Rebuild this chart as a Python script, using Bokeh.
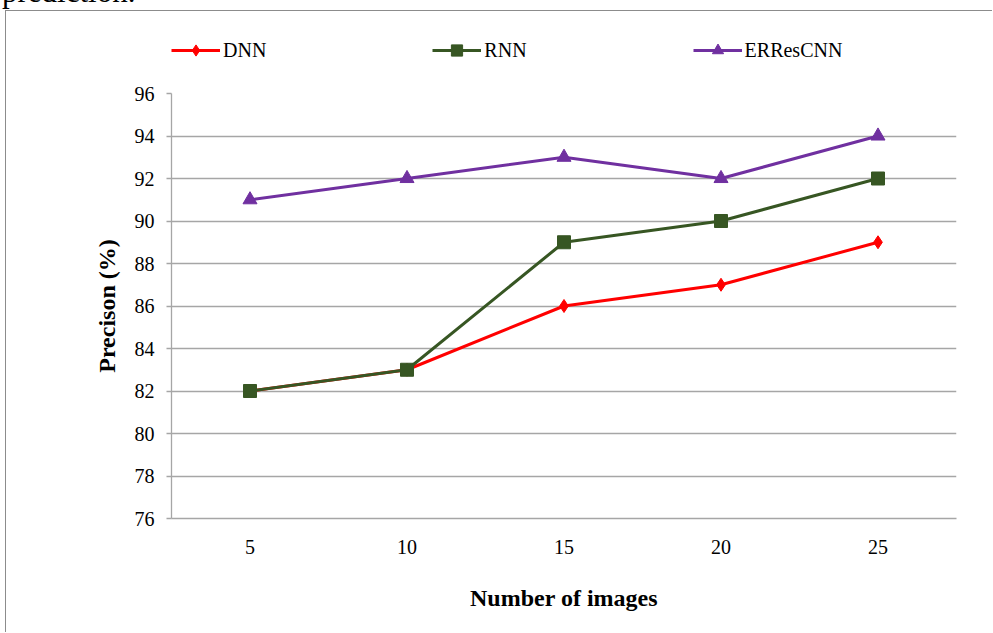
from bokeh.plotting import figure
from bokeh.models import Legend, LegendItem, Div, Spacer, FixedTicker, Range1d
from bokeh.layouts import column, row
from bokeh.embed import file_html
from bokeh.resources import INLINE

categories = ["5", "10", "15", "20", "25"]
dnn = [82, 83, 86, 87, 89]
rnn = [82, 83, 89, 90, 92]
errescnn = [91, 92, 93, 92, 94]
series_names = ["DNN", "RNN", "ERResCNN"]
y_ticks = [76, 78, 80, 82, 84, 86, 88, 90, 92, 94, 96]

FONT = "Liberation Serif"
GRID = "#a6a6a6"
BORDER = "#8c8c8c"
RED = "#ff0000"
GREEN = "#375623"
PURPLE = "#7030a0"
styles_list = [(RED, "diamond", 13), (GREEN, "square", 13), (PURPLE, "triangle", 14)]

# ---- main chart ----
p = figure(x_range=categories, y_range=(76, 96), width=987, height=549,
           output_backend="svg", toolbar_location=None,
           min_border_left=165, min_border_right=37, min_border_top=10, min_border_bottom=114,
           styles={"border-left": "1px solid " + BORDER})
p.outline_line_color = None
p.x_range.range_padding = 0

p.yaxis.ticker = FixedTicker(ticks=y_ticks)
p.ygrid.grid_line_color = GRID
p.ygrid.grid_line_width = 1.3
p.xgrid.grid_line_color = None

p.yaxis.axis_line_color = GRID
p.yaxis.axis_line_width = 1.3
p.yaxis.major_tick_line_color = GRID
p.yaxis.major_tick_line_width = 1.3
p.yaxis.major_tick_out = 5
p.yaxis.major_tick_in = 0
p.yaxis.minor_tick_line_color = None
p.xaxis.axis_line_color = GRID
p.xaxis.axis_line_width = 1.3
p.xaxis.major_tick_line_color = None
p.xaxis.minor_tick_line_color = None

for ax in (p.xaxis, p.yaxis):
    ax.major_label_text_font = FONT
    ax.major_label_text_font_size = "20px"
    ax.major_label_text_color = "#000000"
    ax.axis_label_text_font = FONT
    ax.axis_label_text_font_size = "24px"
    ax.axis_label_text_font_style = "bold"
    ax.axis_label_text_color = "#000000"
p.xaxis.major_label_standoff = 15
p.yaxis.major_label_standoff = 12
p.xaxis.axis_label = "Number of images"
p.yaxis.axis_label = "Precison (%)"
p.xaxis.axis_label_standoff = 28
p.yaxis.axis_label_standoff = 12

for vals, (col, mk, sz) in zip([dnn, rnn, errescnn], styles_list):
    p.line(categories, vals, line_color=col, line_width=3)
    p.scatter(categories, vals, marker=mk, size=sz, color=col)

# ---- legend strip (series drawn out of view, keys only shown) ----
lg = figure(x_range=categories, y_range=Range1d(0, 1), width=987, height=73,
            output_backend="svg", toolbar_location=None,
            min_border_left=165, min_border_right=37, min_border_top=0, min_border_bottom=0,
            styles={"border-left": "1px solid " + BORDER, "border-top": "1px solid " + BORDER})
lg.axis.visible = False
lg.grid.visible = False
lg.outline_line_color = None

items = []
for name, vals, (col, mk, sz) in zip(series_names, [dnn, rnn, errescnn], styles_list):
    r1 = lg.line(categories, vals, line_color=col, line_width=3)
    r2 = lg.scatter(categories, vals, marker=mk, size=sz, color=col)
    items.append(LegendItem(label=name, renderers=[r1, r2]))

legend = Legend(items=items, orientation="horizontal", location=(0, 20),
                glyph_width=49, glyph_height=28, label_standoff=3, spacing=166,
                padding=0, margin=0, border_line_color=None, background_fill_alpha=0,
                label_text_font=FONT, label_text_font_size="20px", label_text_color="#000000")
lg.add_layout(legend, "center")

top = Div(text='<div style="position:relative;top:-24px;left:2px;font-family:\'Liberation Serif\';font-size:31px;line-height:31px;color:#000;white-space:nowrap">prediction.</div>',
          width=993, height=10, margin=0, styles={"overflow": "hidden"})

layout = column(top,
                row(Spacer(width=5, height=622, margin=0),
                    column(lg, p, spacing=0, sizing_mode="fixed"),
                    sizing_mode="fixed"),
                spacing=0, sizing_mode="fixed")

open("out.html", "w").write(file_html(layout, INLINE))
